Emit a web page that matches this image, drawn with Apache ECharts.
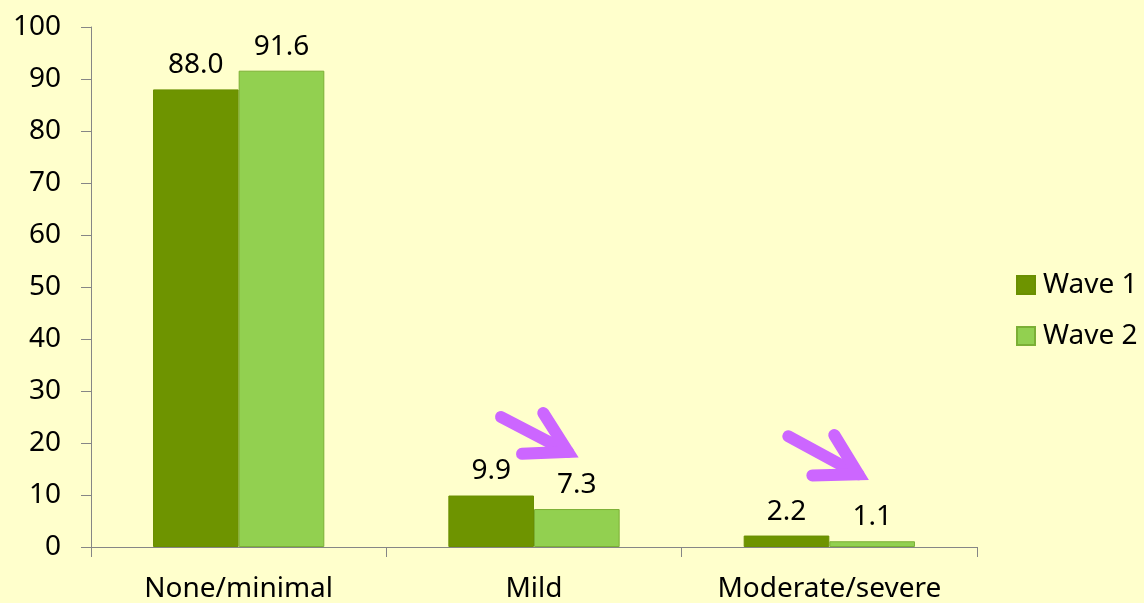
<!DOCTYPE html>
<html>
<head>
<meta charset="utf-8">
<script src="https://cdn.jsdelivr.net/npm/echarts@6/dist/echarts.min.js"></script>
<style>
html,body{margin:0;padding:0;background:#FFFFCC;}
#chart{width:1144px;height:603px;}
</style>
</head>
<body>
<div id="chart"></div>
<script>
const categories = ['None/minimal', 'Mild', 'Moderate/severe'];
const seriesNames = ['Wave 1', 'Wave 2'];
const wave1 = [88.0, 9.9, 2.2];
const wave2 = [91.6, 7.3, 1.1];
const yTicks = [0, 100, 10];
// annotation arrows: category, tail/tip (pixel x offset from category centre, y in value units)
const arrows = [
  { cat: 'Mild', tail: [-33, 25.0], tip: [34, 18.3] },
  { cat: 'Moderate/severe', tail: [-41, 21.3], tip: [29, 14.0] }
];

const FONT = 'Noto Sans';
const chart = echarts.init(document.getElementById('chart'));
const labelStyle = {
  show: true, position: 'top', distance: 10, color: '#000',
  fontFamily: FONT, fontSize: 28,
  formatter: p => p.value.toFixed(1)
};
chart.setOption({
  backgroundColor: '#FFFFCC',
  animation: false,
  grid: { left: 91, right: 167, top: 27, bottom: 56, containLabel: false },
  legend: {
    orient: 'vertical', left: 1011, top: 266,
    itemWidth: 18, itemHeight: 18, itemGap: 23,
    icon: 'rect',
    textStyle: { fontFamily: FONT, fontSize: 28, color: '#000', padding: [0, 0, 0, 3] },
    data: seriesNames
  },
  xAxis: {
    type: 'category', data: categories,
    axisLine: { lineStyle: { color: '#868686', width: 1 } },
    axisTick: { show: true, length: 10, lineStyle: { color: '#868686' } },
    axisLabel: { color: '#000', fontFamily: FONT, fontSize: 28, margin: 28 }
  },
  yAxis: {
    type: 'value', min: yTicks[0], max: yTicks[1], interval: yTicks[2],
    axisLine: { show: true, lineStyle: { color: '#868686', width: 1 } },
    axisTick: { show: true, length: 10, lineStyle: { color: '#868686' } },
    splitLine: { show: false },
    axisLabel: { color: '#000', fontFamily: FONT, fontSize: 28, margin: 30 }
  },
  series: [
    {
      name: seriesNames[0], type: 'bar', data: wave1,
      barGap: '0%', barCategoryGap: '42%',
      itemStyle: { color: '#6E9400', borderColor: '#6A8F00', borderWidth: 1 },
      label: labelStyle
    },
    {
      name: seriesNames[1], type: 'bar', data: wave2,
      itemStyle: { color: '#92D050', borderColor: '#7BAF35', borderWidth: 1 },
      label: labelStyle
    }
  ]
});

function drawArrows() {
  const els = [];
  arrows.forEach(a => {
    const cx = chart.convertToPixel({ xAxisIndex: 0 }, a.cat);
    const t = [cx + a.tail[0], chart.convertToPixel({ yAxisIndex: 0 }, a.tail[1])];
    const p = [cx + a.tip[0], chart.convertToPixel({ yAxisIndex: 0 }, a.tip[1])];
    const ang = Math.atan2(t[1] - p[1], t[0] - p[0]);
    const L = 46, d = 30 * Math.PI / 180;
    const w1 = [p[0] + L * Math.cos(ang + d), p[1] + L * Math.sin(ang + d)];
    const w2 = [p[0] + L * Math.cos(ang - d), p[1] + L * Math.sin(ang - d)];
    const style = { stroke: '#CC66FF', lineWidth: 12, lineCap: 'round', lineJoin: 'miter', fill: null };
    els.push({ type: 'polyline', shape: { points: [t, p] }, style: style, z: 10 });
    els.push({ type: 'polyline', shape: { points: [w1, p, w2] }, style: style, z: 10 });
  });
  chart.setOption({ graphic: els });
}
drawArrows();
</script>
</body>
</html>
